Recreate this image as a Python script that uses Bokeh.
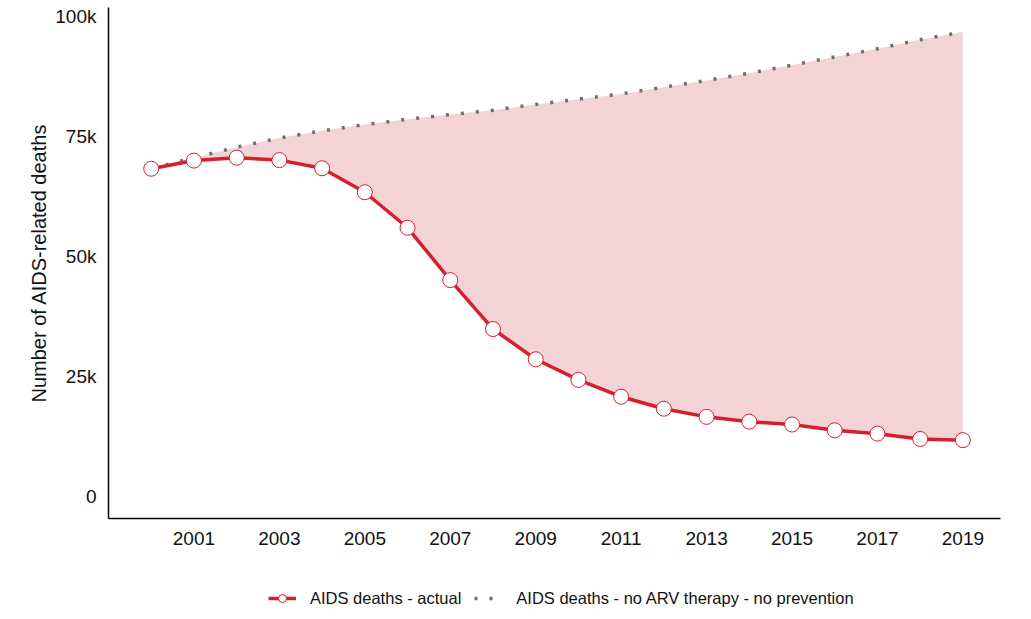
from bokeh.plotting import figure
from bokeh.layouts import column
from bokeh.models import Range1d, FixedTicker, Legend, LegendItem, ColumnDataSource
from bokeh.embed import file_html
from bokeh.resources import INLINE

years = list(range(2000, 2020))
actual = [68300, 70000, 70600, 70100, 68400, 63400, 56000, 45100, 34900, 28600,
          24300, 20800, 18300, 16600, 15600, 15000, 13800, 13100, 12000, 11750]
no_arv = [68300, 70600, 72800, 74700, 76200, 77500, 78600, 79600, 80500, 81700,
          82800, 83900, 85300, 86700, 88200, 89900, 91600, 93300, 95200, 96800]
x_ticks = [2001, 2003, 2005, 2007, 2009, 2011, 2013, 2015, 2017, 2019]
y_ticks = [0, 25000, 50000, 75000, 100000]
y_tick_labels = ["0", "25k", "50k", "75k", "100k"]
label_actual = "AIDS deaths - actual"
label_noarv = "AIDS deaths - no ARV therapy - no prevention"
y_title = "Number of AIDS-related deaths"

RED = "#D51F2E"
PINK = "#F4D3D7"
GRAY = "#6E6E6E"
FONT = "Liberation Sans"

src = ColumnDataSource(dict(year=years, actual=actual, no_arv=no_arv))

p = figure(width=1010, height=555,
           x_range=Range1d(1999.0, 2019.88), y_range=Range1d(-4580, 101900),
           output_backend="svg", toolbar_location=None,
           min_border_left=108, min_border_right=10, min_border_top=7, min_border_bottom=37)
p.outline_line_color = None
p.grid.visible = False
p.background_fill_color = "white"
p.border_fill_color = "white"

p.varea(x="year", y1="actual", y2="no_arv", source=src, fill_color=PINK, fill_alpha=1.0)
r_dot = p.line(x="year", y="no_arv", source=src, line_color=GRAY, line_width=3.5,
               line_dash="3 12", line_cap="butt")
r_line = p.line(x="year", y="actual", source=src, line_color=RED, line_width=3.5)
r_pts = p.scatter(x="year", y="actual", source=src, marker="circle", size=15,
                  fill_color="white", line_color=RED, line_width=1)

for ax in (p.xaxis[0], p.yaxis[0]):
    ax.axis_line_color = "black"
    ax.axis_line_width = 1.5
    ax.major_tick_out = 0
    ax.major_tick_in = 0
    ax.minor_tick_out = 0
    ax.minor_tick_in = 0
    ax.major_label_text_font = FONT
    ax.major_label_text_font_size = "19px"
    ax.major_label_text_color = "#111111"

p.xaxis[0].major_label_standoff = 13
p.yaxis[0].major_label_standoff = 12
p.xaxis[0].ticker = FixedTicker(ticks=x_ticks)
p.yaxis[0].ticker = FixedTicker(ticks=y_ticks)
p.yaxis[0].major_label_overrides = {t: l for t, l in zip(y_ticks, y_tick_labels)}
p.yaxis[0].axis_label = y_title
p.yaxis[0].axis_label_text_font = FONT
p.yaxis[0].axis_label_text_font_size = "20px"
p.yaxis[0].axis_label_text_font_style = "normal"
p.yaxis[0].axis_label_text_color = "#111111"
p.yaxis[0].axis_label_standoff = 2

# legend strip below the chart (same styling as the chart's renderers)
nan = float("nan")
leg_src = ColumnDataSource(dict(x=[nan], y=[nan]))
leg = figure(width=1010, height=60, x_range=Range1d(0, 1), y_range=Range1d(0, 1),
             output_backend="svg", toolbar_location=None,
             x_axis_type=None, y_axis_type=None, min_border=0)
leg.outline_line_color = None
leg.grid.visible = False
l_line = leg.line(x="x", y="y", source=leg_src, line_color=RED, line_width=3.5)
l_pts = leg.scatter(x="x", y="y", source=leg_src, marker="circle", size=15,
                    fill_color="white", line_color=RED, line_width=1)
l_dot = leg.line(x="x", y="y", source=leg_src, line_color=GRAY, line_width=3.5,
                 line_dash="3 12", line_cap="butt")

legend = Legend(items=[LegendItem(label=label_actual, renderers=[l_line, l_pts]),
                       LegendItem(label=label_noarv, renderers=[l_dot])],
                orientation="horizontal", location=(155, 2),
                margin=0, padding=5, spacing=13,
                glyph_width=28, glyph_height=20, label_standoff=14,
                label_text_font=FONT, label_text_font_size="16.5px",
                label_text_color="#111111",
                border_line_alpha=0, background_fill_alpha=0)
leg.add_layout(legend, "center")

layout = column(p, leg, spacing=0)
open("out.html", "w").write(file_html(layout, INLINE))
